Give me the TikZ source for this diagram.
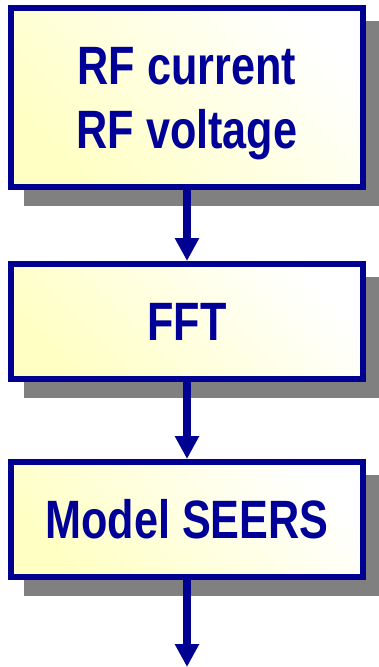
\documentclass[tikz,border=0pt]{standalone}
\usepackage{fontspec}
\newfontfamily\boxfont[FakeStretch=0.80]{Liberation Sans}
\usetikzlibrary{arrows.meta,backgrounds}
\definecolor{navy}{RGB}{0,0,145}
\definecolor{txtblue}{RGB}{0,0,153}
\definecolor{paleyellow}{RGB}{255,255,196}
\definecolor{shadowgray}{RGB}{128,128,128}
\tikzset{
  flowbox/.style={draw=navy, line width=6pt, top color=white, bottom color=paleyellow,
    shading angle=-45, minimum width=352pt, inner sep=0pt, align=center,
    text=txtblue, font=\boxfont\bfseries\fontsize{54}{64}\selectfont},
  flowarrow/.style={draw=navy, line width=8pt, -{Triangle[width=23pt,length=23pt]}},
  boxshadow/.style={fill=shadowgray}
}
\begin{document}
\begin{tikzpicture}[x=1pt,y=-1pt]
\useasboundingbox (0,0) rectangle (379,667);
\node[flowbox, minimum height=179pt, text depth=0pt] (b1) at (187,97.5) {RF current\\RF voltage};
\node[flowbox, minimum height=115pt] (b2) at (187,321.5) {FFT};
\node[flowbox, minimum height=115pt] (b3) at (187,519.5) {Model SEERS};
\coordinate (end) at (187,667);
\begin{pgfonlayer}{background}
  \foreach \b in {b1,b2,b3}{
    \fill[boxshadow] ([xshift=16pt,yshift=-16pt]\b.north west) rectangle ([xshift=16pt,yshift=-16pt]\b.south east);
  }
\end{pgfonlayer}
\draw[flowarrow] (b1.south) -- (b2.north);
\draw[flowarrow] (b2.south) -- (b3.north);
\draw[flowarrow] (b3.south) -- (end);
\end{tikzpicture}
\end{document}
